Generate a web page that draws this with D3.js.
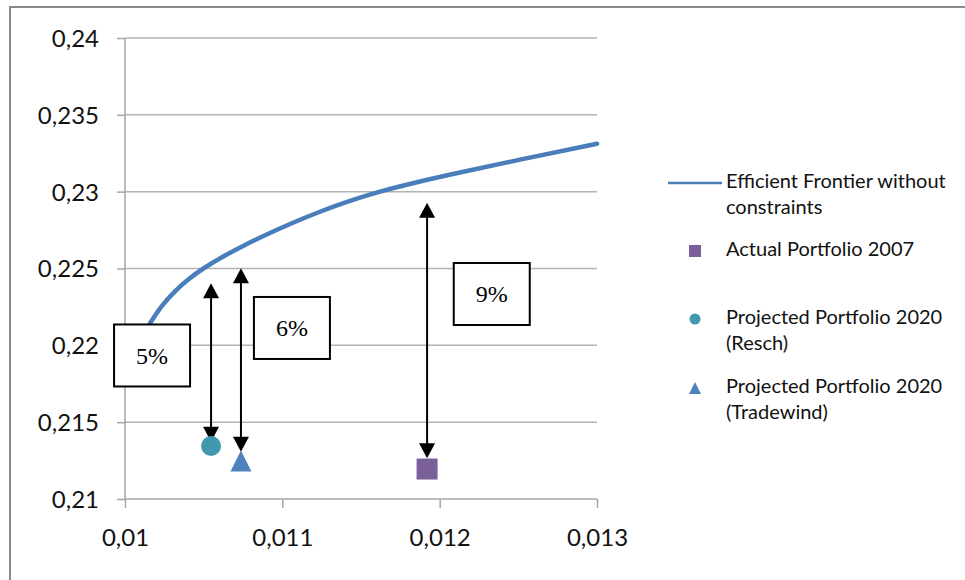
<!DOCTYPE html>
<html>
<head>
<meta charset="utf-8">
<script src="https://cdn.jsdelivr.net/npm/d3@7"></script>
<style>
  body { margin: 0; background: #fff; }
  svg { display: block; }
</style>
</head>
<body>
<svg id="chart" width="965" height="580"></svg>
<script>
// Efficient frontier (risk on x, return on y)
const frontierRisk   = [0.010159, 0.010235, 0.010318, 0.010400, 0.010508, 0.010636, 0.010763, 0.010890, 0.011049, 0.011239, 0.011430, 0.011621, 0.011843, 0.012085, 0.012511, 0.013000];
const frontierReturn = [0.221434, 0.222566, 0.223516, 0.224271, 0.225065, 0.225846, 0.226536, 0.227161, 0.227892, 0.228693, 0.229396, 0.230001, 0.230582, 0.231146, 0.232087, 0.233119];

// Portfolios
const portfolioNames  = ["Actual Portfolio 2007", "Projected Portfolio 2020 (Resch)", "Projected Portfolio 2020 (Tradewind)"];
const portfolioRisk   = [0.011920, 0.010547, 0.010737];
const portfolioReturn = [0.21195,  0.21345,  0.21247];

// Distance to the frontier: arrow ends and labelled boxes
const gapLabels      = ["9%", "5%", "6%"];
const arrowTop       = [0.22928, 0.22404, 0.22501];
const arrowBottom    = [0.21265, 0.21373, 0.21308];
const gapLabelRisk   = [0.012331, 0.010172, 0.011061];
const gapLabelReturn = [0.22334,  0.21934,  0.22113];

// Axis ticks
const xTicks = [0.010, 0.011, 0.012, 0.013];
const yTicks = [0.210, 0.215, 0.220, 0.225, 0.230, 0.235, 0.240];

const legendLabels = [["Efficient Frontier without", "constraints"], ["Actual Portfolio 2007"], ["Projected Portfolio 2020", "(Resch)"], ["Projected Portfolio 2020", "(Tradewind)"]];

const colors = {
  frontier: "#4a7ebb",
  actual: "#7b5f99",
  resch: "#4198af",
  tradewind: "#4f81bd"
};
const portfolioColors = [colors.actual, colors.resch, colors.tradewind];
const portfolioShapes = ["square", "circle", "triangle"];

const locale = d3.formatLocale({ decimal: ",", thousands: ".", grouping: [3], currency: ["", ""] });
const fmt = locale.format(".3~f");

const svg = d3.select("#chart");
const W = 965, H = 580;
const plot = { left: 125, top: 38, right: 597, bottom: 499 };

const x = d3.scaleLinear().domain([0.010, 0.013]).range([plot.left, plot.right]);
const y = d3.scaleLinear().domain([0.210, 0.240]).range([plot.bottom, plot.top]);

// Outer chart frame
svg.append("rect")
  .attr("x", 10).attr("y", 7)
  .attr("width", W + 20).attr("height", H + 20)
  .attr("fill", "#fff")
  .attr("stroke", "#8a8a8a").attr("stroke-width", 2);

// Horizontal gridlines
svg.append("g")
  .selectAll("line")
  .data(yTicks.slice(1))
  .join("line")
  .attr("x1", plot.left).attr("x2", plot.right)
  .attr("y1", d => y(d)).attr("y2", d => y(d))
  .attr("stroke", "#b4b4b4").attr("stroke-width", 1.5);

// Y axis
const yAxis = svg.append("g")
  .attr("transform", `translate(${plot.left},0)`)
  .call(d3.axisLeft(y).tickValues(yTicks).tickFormat(fmt).tickSize(8).tickPadding(18));
// X axis
const xAxis = svg.append("g")
  .attr("transform", `translate(0,${plot.bottom})`)
  .call(d3.axisBottom(x).tickValues(xTicks).tickFormat(fmt).tickSize(9).tickPadding(21));

[yAxis, xAxis].forEach(g => {
  g.select(".domain").attr("stroke", "#a6a6a6").attr("stroke-width", 1.5);
  g.selectAll(".tick line").attr("stroke", "#a6a6a6").attr("stroke-width", 1.5);
  g.selectAll(".tick text")
    .attr("fill", "#111")
    .style("font-family", "Lato, 'Open Sans', sans-serif")
    .style("font-size", "24px");
});
yAxis.select(".domain").attr("d", `M0,${plot.top}V${plot.bottom}`);
xAxis.select(".domain").attr("d", `M${plot.left},0H${plot.right}`);
yAxis.selectAll(".tick text").attr("dy", "0.35em");

// Frontier curve
const frontier = frontierRisk.map((r, i) => [r, frontierReturn[i]]);
svg.append("path")
  .datum(frontier)
  .attr("fill", "none")
  .attr("stroke", colors.frontier)
  .attr("stroke-width", 4.5)
  .attr("stroke-linecap", "round")
  .attr("d", d3.line().x(d => x(d[0])).y(d => y(d[1])).curve(d3.curveNatural));

// Marker shapes centred on (0,0)
function markerPath(shape, size) {
  const h = size / 2;
  if (shape === "square") return `M${-h},${-h}H${h}V${h}H${-h}Z`;
  if (shape === "triangle") return `M0,${-h}L${h},${h}H${-h}Z`;
  return d3.arc()({ innerRadius: 0, outerRadius: h, startAngle: 0, endAngle: 2 * Math.PI });
}

// Distance arrows
const arrowG = svg.append("g");
portfolioRisk.forEach((r, i) => {
  const ax = x(r), y1 = y(arrowTop[i]), y2 = y(arrowBottom[i]);
  const hw = 8, hl = 15;
  arrowG.append("line")
    .attr("x1", ax).attr("x2", ax)
    .attr("y1", y1 + hl - 1).attr("y2", y2 - hl + 1)
    .attr("stroke", "#000").attr("stroke-width", 2);
  arrowG.append("path")
    .attr("d", `M${ax},${y1}L${ax + hw},${y1 + hl}H${ax - hw}Z`)
    .attr("fill", "#000");
  arrowG.append("path")
    .attr("d", `M${ax},${y2}L${ax + hw},${y2 - hl}H${ax - hw}Z`)
    .attr("fill", "#000");
});

// Portfolio markers
svg.append("g")
  .selectAll("path")
  .data(portfolioRisk.map((r, i) => ({ r, ret: portfolioReturn[i], shape: portfolioShapes[i], color: portfolioColors[i] })))
  .join("path")
  .attr("transform", d => `translate(${x(d.r)},${y(d.ret)})`)
  .attr("d", d => markerPath(d.shape, d.shape === "circle" ? 20 : 21))
  .attr("fill", d => d.color);

// Gap label boxes
const boxW = 76, boxH = 62;
const boxes = svg.append("g")
  .selectAll("g")
  .data(gapLabels.map((t, i) => ({ t, r: gapLabelRisk[i], ret: gapLabelReturn[i] })))
  .join("g")
  .attr("transform", d => `translate(${x(d.r)},${y(d.ret)})`);
boxes.append("rect")
  .attr("x", -boxW / 2).attr("y", -boxH / 2)
  .attr("width", boxW).attr("height", boxH)
  .attr("fill", "#fff").attr("stroke", "#000").attr("stroke-width", 2);
boxes.append("text")
  .attr("text-anchor", "middle")
  .attr("dy", "0.35em")
  .style("font-family", "'Liberation Serif', 'DejaVu Serif', serif")
  .style("font-size", "24px")
  .attr("fill", "#000")
  .text(d => d.t);

// Legend
const legend = svg.append("g").style("font-family", "Lato, 'Open Sans', sans-serif").style("font-size", "20px");
const legendRows = [183, 251, 319, 388];
legendLabels.forEach((lines, i) => {
  const cy = legendRows[i];
  if (i === 0) {
    legend.append("line")
      .attr("x1", 668).attr("x2", 722).attr("y1", cy).attr("y2", cy)
      .attr("stroke", colors.frontier).attr("stroke-width", 2.5);
  } else {
    const shape = portfolioShapes[i - 1];
    legend.append("path")
      .attr("transform", `translate(695,${cy})`)
      .attr("d", markerPath(shape, shape === "circle" ? 11 : 12))
      .attr("fill", portfolioColors[i - 1]);
  }
  lines.forEach((line, j) => {
    legend.append("text")
      .attr("x", 726)
      .attr("y", cy + 5 + j * 26)
      .attr("fill", "#111")
      .text(line);
  });
});
</script>
</body>
</html>
